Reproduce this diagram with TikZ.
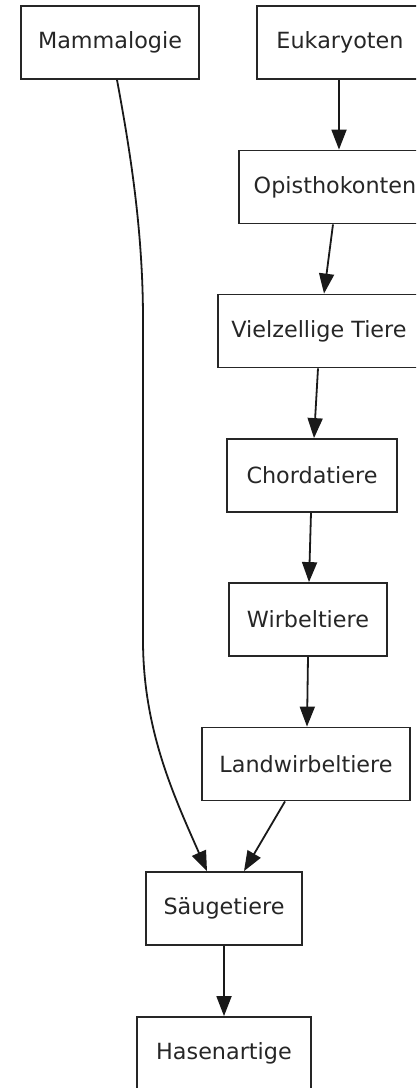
\documentclass[tikz,border=0pt]{standalone}
\usepackage{fontspec}
\setmainfont{DejaVu Sans}
\usetikzlibrary{arrows.meta,calc}
\begin{document}
\begin{tikzpicture}[x=1pt,y=-1pt,
  box/.style={draw=black!85,line width=1.8pt,rectangle,inner sep=0pt,minimum height=73pt,
    font=\fontsize{22.3}{26}\selectfont,text=black!85},
  edge/.style={draw=black!90,line width=1.8pt,-{Triangle[length=20pt,width=15pt]}}]
\useasboundingbox (0,0) rectangle (416,1088);
\clip (0,0) rectangle (416,1088);
\node[box,minimum width=178pt] (mamm) at (110,42.5) {Mammalogie};
\node[box,minimum width=166pt] (euk) at (340,42.5) {Eukaryoten};
\node[box,minimum width=192pt] (opis) at (335,187) {Opisthokonten};
\node[box,minimum width=202pt] (viel) at (319,331) {Vielzellige Tiere};
\node[box,minimum width=170pt] (chord) at (312,475.5) {Chordatiere};
\node[box,minimum width=158pt] (wirb) at (308,619.5) {Wirbeltiere};
\node[box,minimum width=208pt] (land) at (306,764) {Landwirbeltiere};
\node[box,minimum width=156pt] (saeug) at (224,908.5) {Säugetiere};
\node[box,minimum width=174pt] (hase) at (224,1053.5) {Hasenartige};
\draw[edge] ([xshift=-1pt]euk.south) -- ([xshift=4pt]opis.north);
\draw[edge] ([xshift=-2pt]opis.south) -- ([xshift=5pt]viel.north);
\draw[edge] ([xshift=-1pt]viel.south) -- ([xshift=2pt]chord.north);
\draw[edge] ([xshift=-1pt]chord.south) -- ([xshift=1pt]wirb.north);
\draw[edge] (wirb.south) -- ([xshift=1pt]land.north);
\draw[edge] ([xshift=-21pt]land.south) -- ([xshift=20pt]saeug.north);
\draw[edge] (saeug.south) -- (hase.north);
\draw[edge] ([xshift=7pt]mamm.south) .. controls ($(mamm.south)+(20,70)$) and ($(mamm.south)+(33,150)$) .. ($(mamm.south)+(33,240)$)
  -- ($(mamm.south)+(33,560)$)
  .. controls ($(mamm.south)+(33,650)$) and ($(saeug.north)+(-50,-75)$) .. ([xshift=-17pt]saeug.north);
\end{tikzpicture}
\end{document}
